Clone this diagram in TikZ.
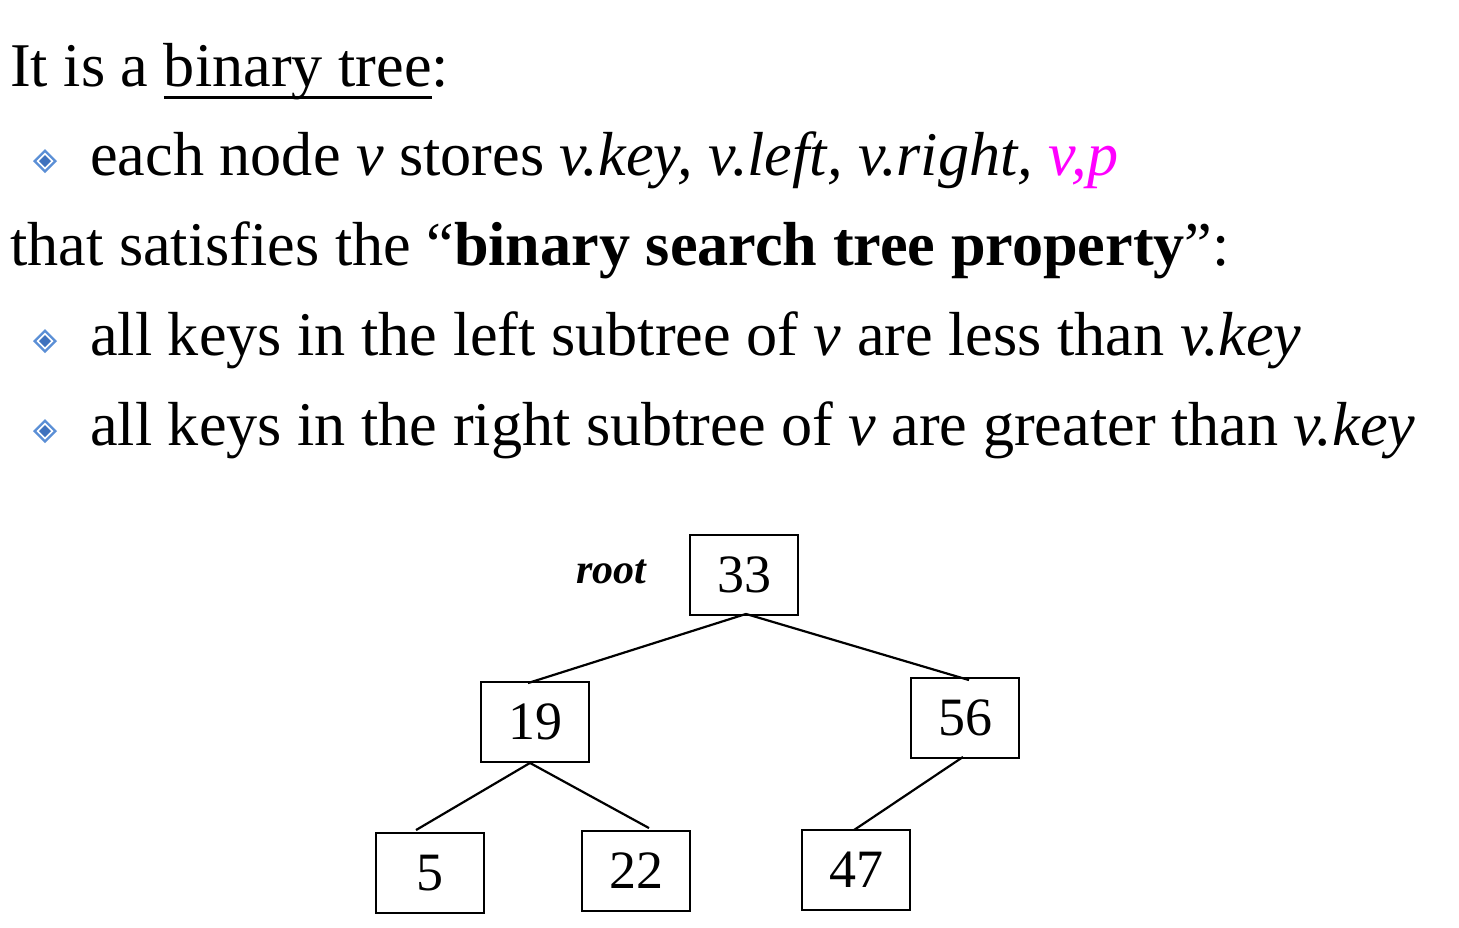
\documentclass[tikz,border=0pt]{standalone}
\usepackage{fontspec}
\setmainfont{Liberation Serif}
\usepackage{xcolor}
\definecolor{bulletouter}{HTML}{5B8FD6}
\definecolor{bulletinner}{HTML}{3F72BE}
\definecolor{magentap}{HTML}{FF00FF}
\newcommand{\myul}[1]{\setbox0\hbox{#1}\rlap{\rule[-12.5pt]{\wd0}{2.6pt}}\box0}
\begin{document}
\begin{tikzpicture}[x=1pt,y=-1pt,
  txt/.style={anchor=base west,inner sep=0pt,font=\fontsize{62.2}{74}\selectfont},
  keybox/.style={draw,line width=1.9pt,minimum width=108pt,minimum height=80pt,inner sep=0pt,font=\fontsize{54}{64}\selectfont},
  edge/.style={line width=2.2pt},
  bulletmark/.pic={
    \fill[bulletouter] (0,-12) -- (12,0) -- (0,12) -- (-12,0) -- cycle;
    \fill[white] (0,-8.5) -- (8.5,0) -- (0,8.5) -- (-8.5,0) -- cycle;
    \fill[bulletinner] (0,-6) -- (6,0) -- (0,6) -- (-6,0) -- cycle;
  }]
\useasboundingbox (0,0) rectangle (1459,927);
\node[txt] (l1) at (10,86) {It is a \myul{binary tree}:};
\pic at (45,161) {bulletmark};
\node[txt] (l2) at (90,175) {each node \textit{v} stores \textit{v.key, v.left, v.right,} \textcolor{magentap}{\textit{v,p}}};
\node[txt] (l3) at (10,265) {that satisfies the “\textbf{binary search tree property}”:};
\pic at (45,341) {bulletmark};
\node[txt] (l4) at (90,355) {all keys in the left subtree of \textit{v} are less than \textit{v.key}};
\pic at (45,431) {bulletmark};
\node[txt] (l5) at (90,445) {all keys in the right subtree of \textit{v} are greater than \textit{v.key}};

\node[keybox] (n33) at (744,575) {33};
\node[keybox] (n19) at (535,722) {19};
\node[keybox] (n56) at (965,718) {56};
\node[keybox] (n5) at (430,873) {5};
\node[keybox] (n22) at (636,871) {22};
\node[keybox] (n47) at (856,870) {47};
\node[font=\fontsize{42}{50}\selectfont\bfseries\itshape,anchor=base] (root) at (611,583) {root};

\draw[edge] ([xshift=2pt,yshift=2pt]n33.south) -- ([xshift=-7pt,yshift=-2pt]n19.north);
\draw[edge] ([xshift=2pt,yshift=2pt]n33.south) -- ([xshift=4pt,yshift=-3pt]n56.north);
\draw[edge] ([xshift=-5pt]n19.south) -- ([xshift=-14pt,yshift=2pt]n5.north);
\draw[edge] ([xshift=-5pt]n19.south) -- ([xshift=13pt,yshift=2pt]n22.north);
\draw[edge] ([xshift=-2pt,yshift=2pt]n56.south) -- ([xshift=-2pt,yshift=-1pt]n47.north);
\end{tikzpicture}
\end{document}
